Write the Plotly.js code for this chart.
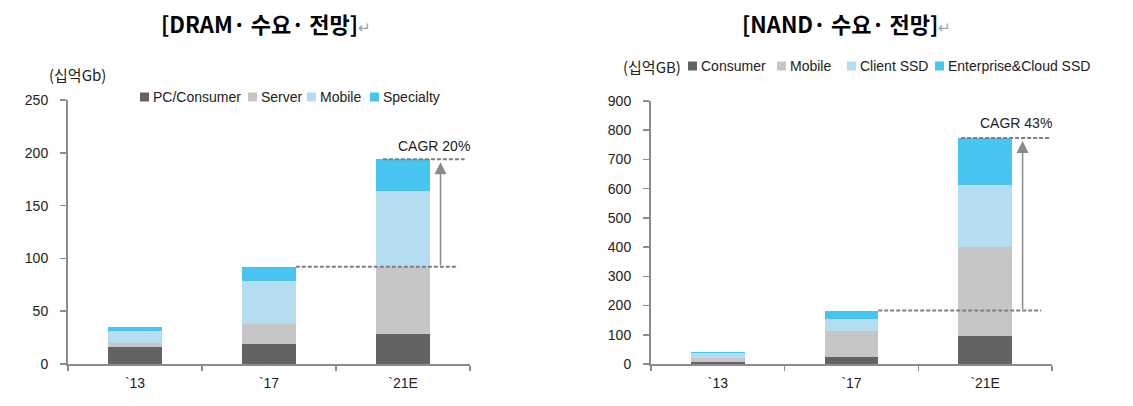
<!DOCTYPE html>
<html>
<head>
<meta charset="utf-8">
<script src="https://cdn.plot.ly/plotly-3.0.1.min.js"></script>
<style>html,body{margin:0;padding:0;background:#fff;}#chart{width:1133px;height:406px;}</style>
</head>
<body>
<div id="chart"></div>
<script>
// ---- data ----
const categories = ["`13", "`17", "`21E"];

const dramSeries = ["PC/Consumer", "Server", "Mobile", "Specialty"];
const dramPC = [16, 19, 28];
const dramServer = [4, 19, 64];
const dramMobile = [11, 41, 72];
const dramSpecialty = [4, 13, 30];
const dramTicks = [0, 50, 100, 150, 200, 250];

const nandSeries = ["Consumer", "Mobile", "Client SSD", "Enterprise&Cloud SSD"];
const nandConsumer = [8, 25, 97];
const nandMobile = [14, 89, 303];
const nandClient = [17, 39, 213];
const nandEnterprise = [3, 30, 160];
const nandTicks = [0, 100, 200, 300, 400, 500, 600, 700, 800, 900];

const dramCagr = "CAGR 20%";
const nandCagr = "CAGR 43%";

// ---- styles ----
const colors = ["#636363", "#c6c6c6", "#b4ddf2", "#47c4ef"];
const FONT = "Liberation Sans, Arial, sans-serif";
const axisGrey = "#8c8c8c";

function sum(arrs, i) { return arrs.reduce((s, a) => s + a[i], 0); }

const dramArrs = [dramPC, dramServer, dramMobile, dramSpecialty];
const nandArrs = [nandConsumer, nandMobile, nandClient, nandEnterprise];

const traces = [];
dramArrs.forEach((arr, k) => traces.push({
  type: "bar", x: categories, y: arr, name: dramSeries[k],
  marker: {color: colors[k]}, xaxis: "x", yaxis: "y", showlegend: false,
  hoverinfo: "none"
}));
nandArrs.forEach((arr, k) => traces.push({
  type: "bar", x: categories, y: arr, name: nandSeries[k],
  marker: {color: colors[k]}, xaxis: "x2", yaxis: "y2", showlegend: false,
  hoverinfo: "none"
}));

const dram17 = sum(dramArrs, 1), dram21 = sum(dramArrs, 2);
const nand17 = sum(nandArrs, 1), nand21 = sum(nandArrs, 2);

const dashLine = {color: "#7f7f7f", width: 2, dash: "4px,2px"};
const shapes = [
  {type: "line", xref: "x", yref: "y", x0: 1.2, x1: 2.41, y0: dram17, y1: dram17, line: dashLine},
  {type: "line", xref: "x", yref: "y", x0: 1.85, x1: 2.46, y0: dram21, y1: dram21, line: dashLine},
  {type: "line", xref: "x2", yref: "y2", x0: 1.2, x1: 2.42, y0: nand17, y1: nand17, line: dashLine},
  {type: "line", xref: "x2", yref: "y2", x0: 1.82, x1: 2.48, y0: nand21, y1: nand21, line: dashLine}
];

const annotations = [
  // titles
  {xref: "paper", yref: "paper", x: 266/1133, y: 1 - 23/406, xanchor: "center", yanchor: "middle", showarrow: false,
   text: "<b>[DRAM· 수요· 전망]</b><span style='color:#a0a0a0;font-size:15px'>↵</span>",
   font: {family: "Noto Sans CJK KR, sans-serif", size: 22, color: "#000"}},
  {xref: "paper", yref: "paper", x: 846/1133, y: 1 - 23/406, xanchor: "center", yanchor: "middle", showarrow: false,
   text: "<b>[NAND· 수요· 전망]</b><span style='color:#a0a0a0;font-size:15px'>↵</span>",
   font: {family: "Noto Sans CJK KR, sans-serif", size: 22, color: "#000"}},
  // units
  {xref: "paper", yref: "paper", x: 47/1133, y: 1 - 75/406, xanchor: "left", yanchor: "middle", showarrow: false,
   text: "(십억Gb)", font: {family: "Noto Sans CJK KR, sans-serif", size: 15, color: "#222"}},
  {xref: "paper", yref: "paper", x: 621/1133, y: 1 - 66/406, xanchor: "left", yanchor: "middle", showarrow: false,
   text: "(십억GB)", font: {family: "Noto Sans CJK KR, sans-serif", size: 15, color: "#222"}},
  // CAGR texts
  {xref: "x", yref: "y", x: 2.23, y: dram21, yshift: 3, xanchor: "center", yanchor: "bottom", showarrow: false,
   text: dramCagr, font: {family: FONT, size: 14, color: "#222"}},
  {xref: "x2", yref: "y2", x: 2.23, y: nand21, yshift: 5, xanchor: "center", yanchor: "bottom", showarrow: false,
   text: nandCagr, font: {family: FONT, size: 14, color: "#222"}},
  // arrows
  {xref: "x", yref: "y", axref: "x", ayref: "y", x: 2.28, y: dram21, ax: 2.28, ay: dram17, text: "",
   showarrow: true, arrowhead: 2, arrowsize: 1.6, arrowwidth: 1.5, arrowcolor: "#8a8a8a", standoff: 3},
  {xref: "x2", yref: "y2", axref: "x2", ayref: "y2", x: 2.28, y: nand21, ax: 2.28, ay: nand17, text: "",
   showarrow: true, arrowhead: 2, arrowsize: 1.6, arrowwidth: 1.5, arrowcolor: "#8a8a8a", standoff: 3}
];

// custom legends (square + label)
const dramLegendX = [140, 248, 307, 370];
const nandLegendX = [688, 777, 847, 935];
function addLegend(names, xs, ypx) {
  names.forEach((n, k) => {
    shapes.push({type: "rect", xref: "paper", yref: "paper",
      x0: xs[k]/1133, x1: (xs[k]+9)/1133, y0: 1-(ypx+4.5)/406, y1: 1-(ypx-4.5)/406,
      fillcolor: colors[k], line: {width: 0}});
    annotations.push({xref: "paper", yref: "paper", x: (xs[k]+11)/1133, y: 1-ypx/406,
      xanchor: "left", yanchor: "middle", showarrow: false, text: n,
      font: {family: FONT, size: 14, color: "#222"}});
  });
}
addLegend(dramSeries, dramLegendX, 97);
addLegend(nandSeries, nandLegendX, 66);

const xaxisBase = {
  type: "category", tickson: "boundaries", ticks: "outside", ticklen: 5, tickwidth: 1.5,
  tickcolor: axisGrey, showline: true, linecolor: axisGrey, linewidth: 2, showgrid: false,
  zeroline: false, tickfont: {family: FONT, size: 14, color: "#222"}, range: [-0.5, 2.5],
  ticklabelstandoff: 5, fixedrange: true
};
const yaxisBase = {
  ticks: "outside", ticklen: 6, tickwidth: 1.5, tickcolor: axisGrey, showline: true,
  linecolor: axisGrey, linewidth: 2, showgrid: false, zeroline: false,
  tickfont: {family: FONT, size: 14, color: "#222"}, ticklabelstandoff: 9, fixedrange: true
};

const layout = {
  width: 1133, height: 406,
  margin: {l: 0, r: 0, t: 0, b: 0},
  paper_bgcolor: "#fff", plot_bgcolor: "#fff",
  barmode: "stack", bargap: 0.6,
  xaxis: Object.assign({}, xaxisBase, {domain: [68/1133, 470/1133], anchor: "y"}),
  yaxis: Object.assign({}, yaxisBase, {domain: [42/406, 306/406], range: [0, 250], tickvals: dramTicks, anchor: "x"}),
  xaxis2: Object.assign({}, xaxisBase, {domain: [651/1133, 1052/1133], anchor: "y2"}),
  yaxis2: Object.assign({}, yaxisBase, {domain: [42/406, 305/406], range: [0, 900], tickvals: nandTicks, anchor: "x2"}),
  shapes: shapes,
  annotations: annotations,
  showlegend: false
};

Plotly.newPlot("chart", traces, layout, {displayModeBar: false, staticPlot: true});
</script>
</body>
</html>
